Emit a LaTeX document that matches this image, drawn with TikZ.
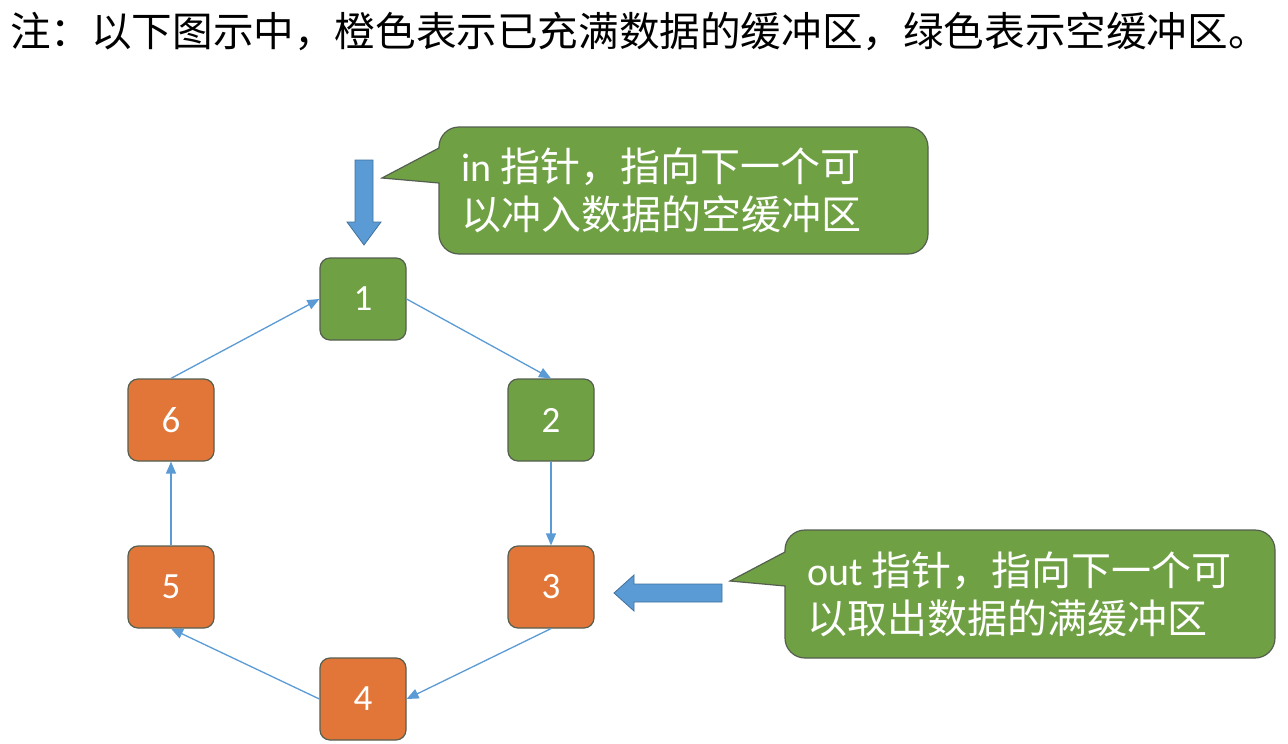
\documentclass[tikz,border=0pt]{standalone}
\usepackage{fontspec}
\setmainfont{Carlito}
\newfontfamily\cjk{Noto Sans CJK SC}
\usetikzlibrary{arrows.meta}
\definecolor{gfill}{RGB}{112,160,68}
\definecolor{ofill}{RGB}{226,118,56}
\definecolor{bline}{RGB}{91,155,213}
\definecolor{bdark}{RGB}{65,113,156}
\definecolor{edge}{RGB}{85,95,80}
\tikzset{
  buf/.style={minimum width=86pt, minimum height=82pt, rounded corners=10pt,
    draw=edge, line width=1.2pt, text=white, inner sep=0pt,
    font=\fontsize{37}{40}\selectfont},
  gbuf/.style={buf, fill=gfill},
  obuf/.style={buf, fill=ofill},
  conn/.style={draw=bline, line width=1.3pt, -{Triangle[length=12pt,width=10pt]}},
  calltext/.style={anchor=west, align=left, text=white, inner sep=0pt,
    font=\fontsize{40}{48}\selectfont},
  callshape/.style={fill=gfill, draw=edge, line width=1.2pt},
  blockarrow/.style={fill=bline, draw=bdark, line width=0.8pt}
}
\begin{document}
\begin{tikzpicture}[x=1pt,y=-1pt]
\useasboundingbox[fill=white] (0,0) rectangle (1288,744);

\node[anchor=west, inner sep=0pt, font=\cjk\fontsize{40.6}{48}\selectfont] (title) at (10,31)
  {注：以下图示中，橙色表示已充满数据的缓冲区，绿色表示空缓冲区。};

% buffers
\node[gbuf] (n1) at (363,299) {1};
\node[gbuf] (n2) at (551,420) {2};
\node[obuf] (n3) at (551,587) {3};
\node[obuf] (n4) at (363,699) {4};
\node[obuf] (n5) at (171,587) {5};
\node[obuf] (n6) at (171,420) {6};

\draw[conn] (n1.east) -- (n2.north);
\draw[conn] (n2.south) -- (n3.north);
\draw[conn] (n3.south) -- (n4.east);
\draw[conn] (n4.west) -- (n5.south);
\draw[conn] (n5.north) -- (n6.south);
\draw[conn] (n6.north) -- (n1.west);

% in callout
\path[callshape] (382,178) -- (439,183) [rounded corners=20pt] -- (439,254) -- (928,254) -- (928,127) -- (439,127) [sharp corners] -- (439,148) -- cycle;
\node[calltext] (intext) at (461,190)
  {in {\cjk 指针，指向下一个可}\\{\cjk 以冲入数据的空缓冲区}};

% out callout
\path[callshape] (730,581) -- (785,586) [rounded corners=20pt] -- (785,658) -- (1275,658) -- (1275,530) -- (785,530) [sharp corners] -- (785,552) -- cycle;
\node[calltext] (outtext) at (807,594)
  {out {\cjk 指针，指向下一个可}\\{\cjk 以取出数据的满缓冲区}};

% block arrows
\path[blockarrow] (355,160) -- (373,160) -- (373,222) -- (381,222) -- (364,245) -- (347,222) -- (355,222) -- cycle;
\path[blockarrow] (722,584) -- (722,602) -- (634,602) -- (634,611) -- (614,593) -- (634,575) -- (634,584) -- cycle;
\end{tikzpicture}
\end{document}
